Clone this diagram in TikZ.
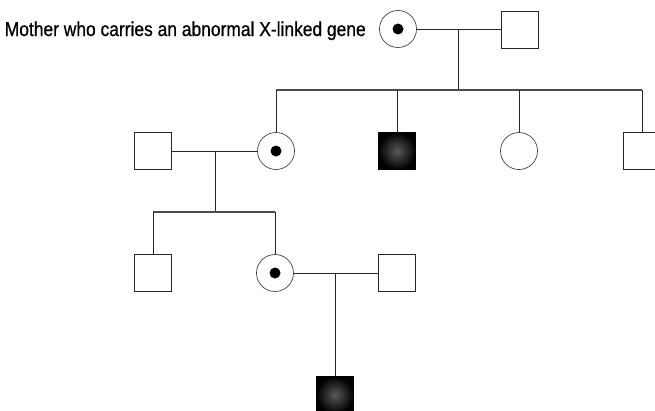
\documentclass[tikz,border=0pt]{standalone}
\usepackage{fontspec}
\setmainfont{Liberation Sans}
\newfontfamily\lblfont{Liberation Sans}[FakeBold=0.8]
\usepackage{graphicx}
\begin{document}
\begin{tikzpicture}[x=1pt,y=-1pt,
  line/.style={line width=0.9pt, draw=black!85},
  bar/.style={line width=1.1pt, draw=black!70},
  female/.style={circle, draw=black!75, line width=0.7pt, minimum size=37pt, inner sep=0pt},
  male/.style={rectangle, draw=black!85, line width=0.9pt, minimum size=37pt, inner sep=0pt},
  affected/.style={male, draw=black, shade, inner color=gray!70!black, outer color=black},
  carrierdot/.style={circle, fill=black, minimum size=11pt, inner sep=0pt},
  lbl/.style={inner sep=0pt, font=\lblfont\fontsize{12pt}{14pt}\selectfont}
]
\useasboundingbox (0,0) rectangle (655,410);
\clip (0,0) rectangle (655,410);

% Generation I
\node[lbl, anchor=base east] (label) at (366,36) {\resizebox{361pt}{14.5pt}{Mother who carries an abnormal X-linked gene}};
\node[female] (m1) at (398,29) {};
\node[carrierdot] (m1dot) at (m1.center) {};
\node[male] (f1) at (520,29.5) {};
\coordinate (c1) at (458,29);
\coordinate (b1) at (458,90);
\draw[line] (m1.east) -- (f1.west |- m1.east);
\draw[line] (c1) -- (b1);

% Generation II
\node[male] (h2) at (153,151) {};
\node[female] (d2) at (276,151) {};
\node[carrierdot] (d2dot) at (d2.center) {};
\node[affected] (s2) at (397,151) {};
\node[female] (d3) at (519,151) {};
\node[male] (s3) at (642,151) {};
\draw[bar] (d2.north |- b1) -- (s3.north |- b1);
\draw[line] (d2.north |- b1) -- (d2.north);
\draw[line] (s2.north |- b1) -- (s2.north);
\draw[line] (d3.north |- b1) -- (d3.north);
\draw[line] (s3.north |- b1) -- (s3.north);

\draw[line] (h2.east) -- (d2.west);
\coordinate (c2) at (215,151);
\coordinate (b2) at (215,212);
\draw[line] (c2) -- (b2);

% Generation III
\node[male] (g3a) at (153,273) {};
\node[female] (g3b) at (275,273) {};
\node[carrierdot] (g3bdot) at (g3b.center) {};
\node[male] (g3c) at (397,273) {};
\draw[bar] (g3a.north |- b2) -- (g3b.north |- b2);
\draw[line] (g3a.north |- b2) -- (g3a.north);
\draw[line] (g3b.north |- b2) -- (g3b.north);
\draw[line] (g3b.east) -- (g3c.west);
\coordinate (c3) at (335,273);

% Generation IV
\node[affected] (g4) at (335,395) {};
\draw[line] (c3) -- (g4.north);
\end{tikzpicture}
\end{document}
